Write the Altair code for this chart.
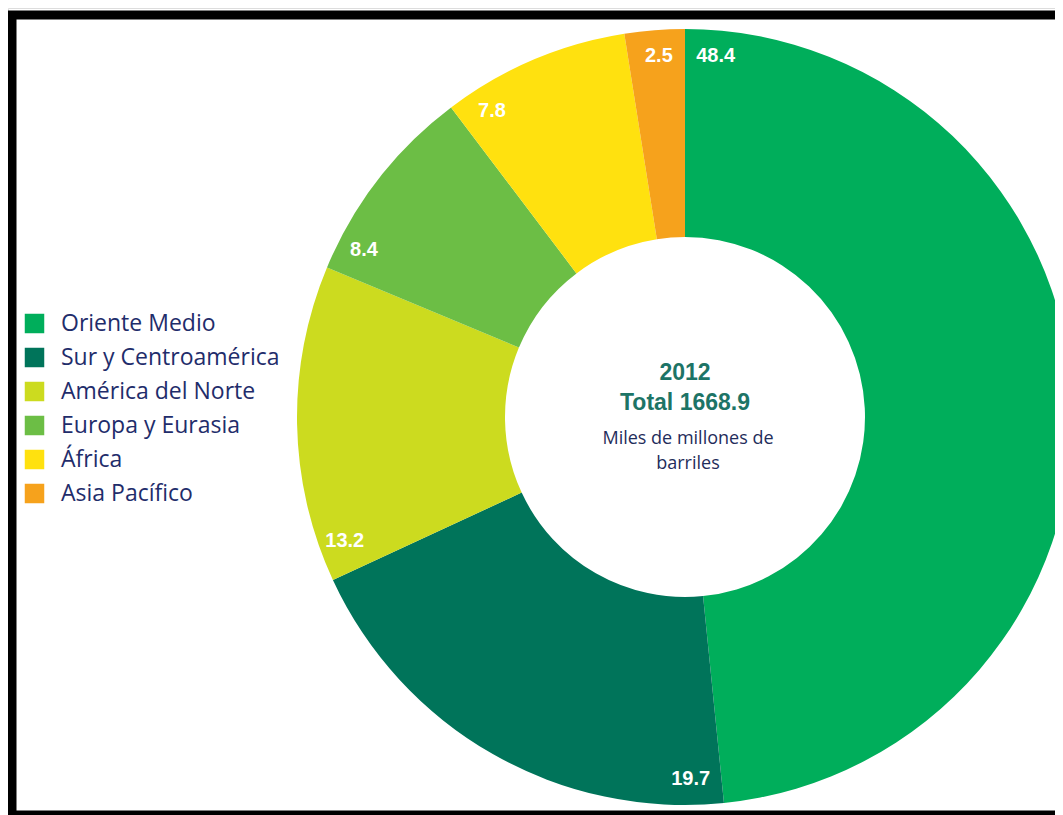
import altair as alt
import pandas as pd

regions = ["Oriente Medio", "Sur y Centroamérica", "América del Norte",
           "Europa y Eurasia", "África", "Asia Pacífico"]
values = [48.4, 19.7, 13.2, 8.4, 7.8, 2.5]
colors = ["#00AE5B", "#00745A", "#CCDB1F", "#6CBE45", "#FFE10F", "#F6A21C"]
center_title = ["2012", "Total 1668.9"]
center_sub = ["Miles de millones de", "barriles"]

df = pd.DataFrame({
    "region": regions,
    "value": values,
    "order": list(range(len(regions))),
    "label": [f"{v:.1f}" for v in values],
})

CX, CY = 677, 409
theta_scale = alt.Scale(domain=[0, 100])

arcs = alt.Chart(df).mark_arc(outerRadius=388, innerRadius=180, stroke=None).encode(
    theta=alt.Theta("value:Q", stack=True, scale=theta_scale),
    order=alt.Order("order:Q"),
    color=alt.Color(
        "region:N",
        scale=alt.Scale(domain=regions, range=colors),
        legend=alt.Legend(
            orient="none", legendX=15, legendY=304, title=None,
            symbolType="square", symbolSize=380, symbolStrokeWidth=0,
            symbolOpacity=1, labelFontSize=23, labelFont="Open Sans",
            labelColor="#1F2D6B", rowPadding=10, labelOffset=15, padding=0,
            labelLimit=0,
        ),
    ),
    x=alt.value(CX),
    y=alt.value(CY),
)

labels = alt.Chart(df).transform_window(
    cum="sum(value)", sort=[alt.SortField("order")]
).transform_calculate(
    lt="datum.cum - datum.value + 1.35"
).mark_text(
    radius=362, font="Liberation Sans", fontWeight="bold", fontSize=20,
    color="white", align="center", baseline="middle",
).encode(
    theta=alt.Theta("lt:Q", scale=theta_scale),
    text="label:N",
    x=alt.value(CX),
    y=alt.value(CY),
)

title_df = pd.DataFrame({"t": center_title, "i": [0, 1]})
sub_df = pd.DataFrame({"t": center_sub, "i": [0, 1]})

title_txt = alt.Chart(title_df).transform_calculate(
    yy=f"{CY - 44} + datum.i * 30"
).mark_text(
    font="Liberation Sans", fontWeight="bold", fontSize=23, color="#1D7466",
    align="center", baseline="middle",
).encode(text="t:N", x=alt.value(CX), y=alt.Y("yy:Q", scale=None))

sub_txt = alt.Chart(sub_df).transform_calculate(
    yy=f"{CY + 22} + datum.i * 25"
).mark_text(
    font="Open Sans", fontSize=18, color="#1F2D5B",
    align="center", baseline="middle",
).encode(text="t:N", x=alt.value(CX + 3), y=alt.Y("yy:Q", scale=None))

frame = alt.Chart(pd.DataFrame({"a": [0]})).mark_rect(
    fillOpacity=0, stroke="black", strokeWidth=9
).encode(
    x=alt.value(4), x2=alt.value(1100), y=alt.value(7), y2=alt.value(807)
)

chart = alt.layer(arcs, labels, title_txt, sub_txt, frame).properties(
    width=1047, height=807, autosize="none", padding=0
).configure_view(stroke=None).configure(background="white")

chart.save("out.html", embed_options={"renderer": "svg", "actions": False})
